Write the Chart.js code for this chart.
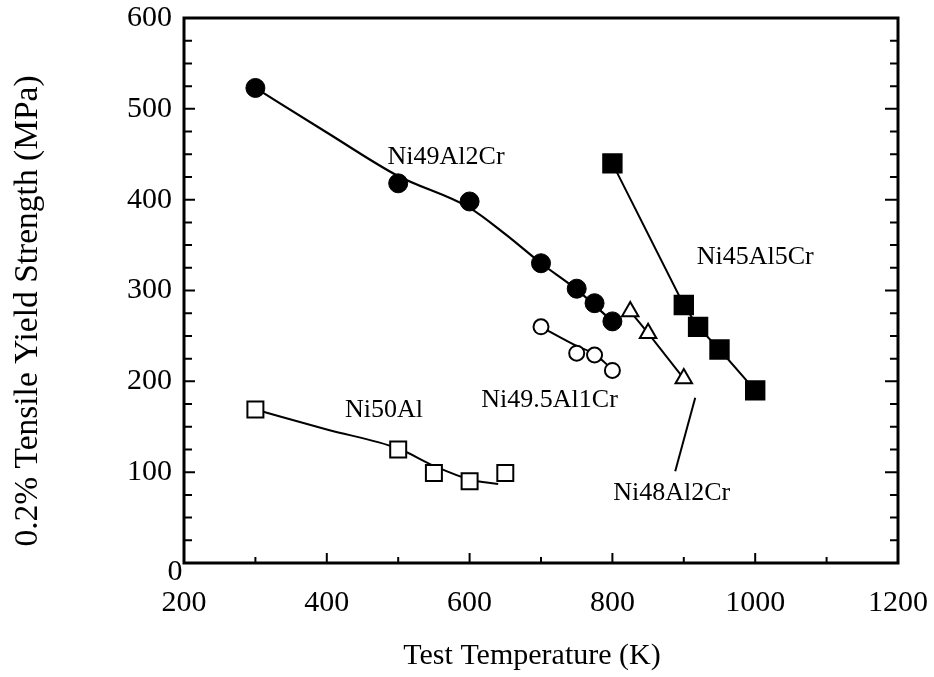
<!DOCTYPE html>
<html>
<head>
<meta charset="utf-8">
<script src="https://cdn.jsdelivr.net/npm/chart.js@4/dist/chart.umd.min.js"></script>
<style>
  html, body { margin: 0; padding: 0; background: #fff; }
  #wrap { width: 934px; height: 677px; }
</style>
</head>
<body>
<div id="wrap"><canvas id="c" width="934" height="677"></canvas></div>
<script>
// Test temperatures (K) and 0.2% tensile yield strengths (MPa)
const ni49Al2Cr_T = [300, 500, 600, 700, 750, 775, 800];
const ni49Al2Cr_S = [523, 418, 398, 330, 302, 286, 266];
const ni49Al2Cr_fitT = [300, 400, 500, 600, 650, 700, 750, 800];
const ni49Al2Cr_fitS = [523, 474, 426, 391, 362, 330, 301, 266];

const ni45Al5Cr_T = [800, 900, 920, 950, 1000];
const ni45Al5Cr_S = [440, 284, 260, 235, 190];

const ni48Al2Cr_T = [825, 850, 900];
const ni48Al2Cr_S = [277, 253, 203];

const ni495Al1Cr_T = [700, 750, 775, 800];
const ni495Al1Cr_S = [260, 231, 229, 212];
const ni495Al1Cr_fitT = [700, 750, 775, 800];
const ni495Al1Cr_fitS = [260, 239, 230, 213];

const ni50Al_T = [300, 500, 550, 600, 650];
const ni50Al_S = [169, 125, 99, 90, 99];
const ni50Al_fitT = [300, 400, 500, 550, 600, 640];
const ni50Al_fitS = [169, 147, 126, 107, 92, 87];

// leader line from the Ni48Al2Cr label to its curve
const leaderT = [916, 888];
const leaderS = [182, 101];

// axis ticks
const xTickValues = [200, 400, 600, 800, 1000, 1200];
const yTickValues = [0, 100, 200, 300, 400, 500, 600];

const xTitle = 'Test Temperature (K)';
const yTitle = '0.2% Tensile Yield Strength (MPa)';

const pts = (xs, ys) => xs.map((x, i) => ({ x: x, y: ys[i] }));

// series labels placed in data units
const seriesLabels = [
  { text: 'Ni49Al2Cr',   x: 567, y: 447 },
  { text: 'Ni45Al5Cr',   x: 1000, y: 337 },
  { text: 'Ni49.5Al1Cr', x: 712, y: 179 },
  { text: 'Ni50Al',      x: 480, y: 168 },
  { text: 'Ni48Al2Cr',   x: 883, y: 77 }
];

const SERIF = '"Liberation Serif", "Times New Roman", serif';

const frameAndTicks = {
  id: 'frameAndTicks',
  afterDatasetsDraw(chart) {
    const { ctx, chartArea: a, scales: { x, y } } = chart;
    ctx.save();
    ctx.strokeStyle = '#000';
    // inward tick marks
    ctx.lineWidth = 2;
    ctx.beginPath();
    for (let v = 0; v <= 600; v += 25) {
      const py = y.getPixelForValue(v);
      const major = v % 100 === 0;
      ctx.moveTo(a.left, py); ctx.lineTo(a.left + (major ? 11 : 8), py);
      ctx.moveTo(a.right, py); ctx.lineTo(a.right - (major ? 13 : 8), py);
    }
    for (let v = 300; v < 1200; v += 100) {
      const px = x.getPixelForValue(v);
      const major = v % 200 === 0;
      ctx.moveTo(px, a.bottom); ctx.lineTo(px, a.bottom - (major ? 10 : 6));
    }
    ctx.stroke();
    // frame
    ctx.lineWidth = 3;
    ctx.strokeRect(a.left, a.top, a.right - a.left, a.bottom - a.top);
    // zero label of the y axis sits just under the axis corner
    ctx.fillStyle = '#000';
    ctx.font = '30px ' + SERIF;
    ctx.textAlign = 'center';
    ctx.textBaseline = 'middle';
    ctx.fillText('0', a.left - 9, y.getPixelForValue(0) + 9);
    // axis titles
    ctx.fillText(xTitle, a.left + 348, 656);
    ctx.save();
    ctx.translate(28, a.top + 293);
    ctx.rotate(-Math.PI / 2);
    ctx.font = '33.5px ' + SERIF;
    ctx.fillText(yTitle, 0, 0);
    ctx.restore();
    // series labels
    ctx.font = '26px ' + SERIF;
    seriesLabels.forEach(l => {
      ctx.fillText(l.text, x.getPixelForValue(l.x), y.getPixelForValue(l.y));
    });
    ctx.restore();
  }
};

const lineOnly = (data) => ({
  data: data, showLine: true, pointRadius: 0, borderColor: '#000',
  borderWidth: 2, tension: 0.4, cubicInterpolationMode: 'monotone', order: 2
});

const noOverflow = (s) => { s.paddingTop = 0; s.paddingBottom = 0; s.paddingLeft = 0; s.paddingRight = 0; };

new Chart(document.getElementById('c'), {
  type: 'scatter',
  data: {
    datasets: [
      { label: 'Ni49Al2Cr', data: pts(ni49Al2Cr_T, ni49Al2Cr_S), pointStyle: 'circle', pointRadius: 9.5,
        backgroundColor: '#000', borderColor: '#000', borderWidth: 1, order: 0 },
      { label: 'Ni45Al5Cr', data: pts(ni45Al5Cr_T, ni45Al5Cr_S), pointStyle: 'rect', pointRadius: 13,
        backgroundColor: '#000', borderColor: '#000', borderWidth: 2, showLine: true, order: 0 },
      { label: 'Ni48Al2Cr', data: pts(ni48Al2Cr_T, ni48Al2Cr_S), pointStyle: 'triangle', pointRadius: 9.5,
        backgroundColor: '#fff', borderColor: '#000', borderWidth: 2, showLine: true, order: 0 },
      { label: 'Ni49.5Al1Cr', data: pts(ni495Al1Cr_T, ni495Al1Cr_S), pointStyle: 'circle', pointRadius: 7.5,
        backgroundColor: '#fff', borderColor: '#000', borderWidth: 2, order: 0 },
      { label: 'Ni50Al', data: pts(ni50Al_T, ni50Al_S), pointStyle: 'rect', pointRadius: 11.3,
        backgroundColor: '#fff', borderColor: '#000', borderWidth: 2, order: 0 },
      Object.assign(lineOnly(pts(ni49Al2Cr_fitT, ni49Al2Cr_fitS)), { borderWidth: 2.2 }),
      lineOnly(pts(ni495Al1Cr_fitT, ni495Al1Cr_fitS)),
      lineOnly(pts(ni50Al_fitT, ni50Al_fitS)),
      Object.assign(lineOnly(pts(leaderT, leaderS)), { tension: 0 })
    ]
  },
  options: {
    responsive: false,
    animation: false,
    devicePixelRatio: 1,
    layout: { padding: { top: 18, right: 36, left: 0, bottom: 0 } },
    plugins: { legend: { display: false }, tooltip: { enabled: false } },
    elements: { line: { borderColor: '#000' } },
    scales: {
      x: {
        type: 'linear', min: 200, max: 1200,
        afterBuildTicks: s => { s.ticks = xTickValues.map(v => ({ value: v })); },
        grid: { display: false, drawTicks: false },
        border: { display: false },
        ticks: { color: '#000', padding: 22, font: { family: SERIF, size: 30 },
                 callback: v => String(v) },
        title: { display: false, text: xTitle },
        afterFit: s => { s.height = 114; noOverflow(s); }
      },
      y: {
        type: 'linear', min: 0, max: 600,
        afterBuildTicks: s => { s.ticks = yTickValues.map(v => ({ value: v })); },
        grid: { display: false, drawTicks: false },
        border: { display: false },
        ticks: { color: '#000', padding: 12, font: { family: SERIF, size: 30 },
                 callback: v => (v === 0 ? '' : String(v)) },
        title: { display: false, text: yTitle },
        afterFit: s => { s.width = 184; noOverflow(s); }
      }
    }
  },
  plugins: [frameAndTicks]
});
</script>
</body>
</html>
